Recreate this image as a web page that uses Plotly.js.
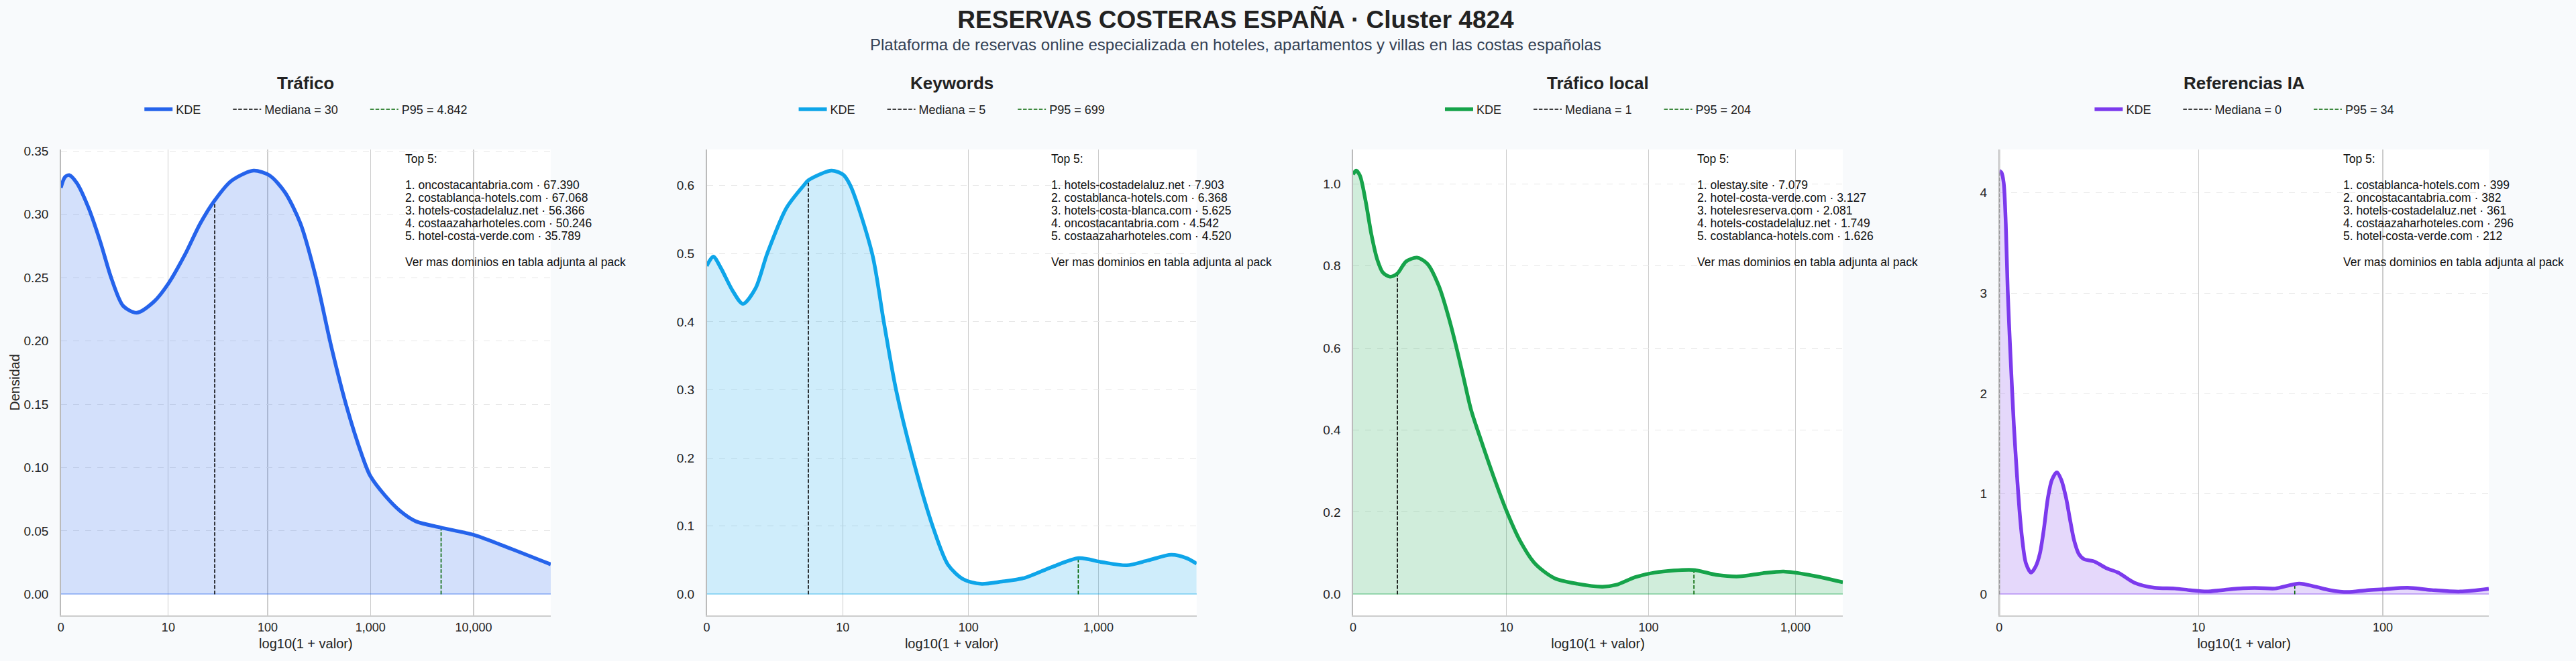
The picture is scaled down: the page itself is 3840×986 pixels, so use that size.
<!DOCTYPE html>
<html>
<head>
<meta charset="utf-8">
<script src="https://cdn.plot.ly/plotly-3.0.1.min.js"></script>
<style>
html,body{margin:0;padding:0;background:#f8fafc;}
#chart{width:3840px;height:986px;}
</style>
</head>
<body>
<div id="chart"></div>
<script>
// ---------------- DATA ----------------
const chartTitle = "RESERVAS COSTERAS ESPAÑA · Cluster 4824";
const chartSubtitle = "Plataforma de reservas online especializada en hoteles, apartamentos y villas en las costas españolas";
const panelTitles = ["Tráfico", "Keywords", "Tráfico local", "Referencias IA"];
const lineColors = ["#2563eb", "#0ea5e9", "#16a34a", "#7c3aed"];

const medians = [30, 5, 1, 0];
const medianLabels = ["30", "5", "1", "0"];
const p95s = [4842, 699, 204, 34];
const p95Labels = ["4.842", "699", "204", "34"];

const xTickValues = [[0, 10, 100, 1000, 10000], [0, 10, 100, 1000], [0, 10, 100, 1000], [0, 10, 100]];
const xTickLabels = [["0", "10", "100", "1,000", "10,000"], ["0", "10", "100", "1,000"], ["0", "10", "100", "1,000"], ["0", "10", "100"]];

const yTickStep = [0.05, 0.1, 0.2, 1];
const yTickFormat = [".2f", ".1f", ".1f", "d"];

// KDE curves on log10(1 + valor) axis
const traficoX = [0, 0.04, 0.082, 0.157, 0.269, 0.381, 0.493, 0.605, 0.735, 0.903, 1.041, 1.202, 1.351, 1.489, 1.650, 1.866, 2.023, 2.172, 2.322, 2.471, 2.620, 2.769, 2.919, 2.997, 3.142, 3.292, 3.440, 3.680, 3.997, 4.263, 4.748];
const traficoY = [0.321, 0.3295, 0.331, 0.3245, 0.305, 0.2787, 0.2487, 0.2276, 0.2223, 0.2311, 0.2452, 0.2681, 0.2928, 0.3108, 0.3263, 0.3345, 0.3307, 0.3174, 0.2928, 0.2505, 0.1959, 0.1483, 0.1096, 0.0937, 0.0779, 0.0655, 0.0576, 0.0527, 0.0470, 0.0391, 0.0236];

const keywordsX = [0, 0.05, 0.109, 0.197, 0.277, 0.374, 0.463, 0.610, 0.742, 0.781, 0.955, 1.043, 1.10, 1.267, 1.356, 1.450, 1.577, 1.730, 1.848, 1.966, 2.098, 2.260, 2.437, 2.643, 2.850, 3.027, 3.218, 3.380, 3.557, 3.675, 3.7516];
const keywordsY = [0.482, 0.4957, 0.4787, 0.446, 0.4263, 0.4492, 0.50, 0.567, 0.60, 0.608, 0.6218, 0.6162, 0.60, 0.50, 0.40, 0.30, 0.20, 0.10, 0.0432, 0.0219, 0.0153, 0.0186, 0.0242, 0.0399, 0.053, 0.0471, 0.0425, 0.0497, 0.0579, 0.053, 0.0448];

const localX = [0, 0.021, 0.047, 0.086, 0.125, 0.164, 0.203, 0.251, 0.300, 0.360, 0.434, 0.504, 0.582, 0.661, 0.739, 0.80, 0.857, 0.95, 1.042, 1.131, 1.235, 1.366, 1.522, 1.692, 1.784, 1.914, 2.045, 2.306, 2.463, 2.619, 2.776, 2.920, 3.090, 3.322];
const localY = [1.0227, 1.0319, 1.020, 0.957, 0.876, 0.816, 0.7835, 0.7737, 0.781, 0.8107, 0.820, 0.8053, 0.751, 0.6586, 0.5445, 0.45, 0.387, 0.29, 0.2021, 0.1314, 0.0743, 0.0391, 0.0254, 0.0184, 0.0228, 0.0418, 0.0527, 0.0592, 0.0473, 0.0434, 0.051, 0.0554, 0.0473, 0.0293];

const iaX = [0, 0.012, 0.023, 0.034, 0.044, 0.059, 0.076, 0.092, 0.105, 0.118, 0.139, 0.166, 0.191, 0.212, 0.233, 0.254, 0.275, 0.301, 0.324, 0.349, 0.370, 0.391, 0.416, 0.443, 0.496, 0.559, 0.622, 0.706, 0.811, 0.916, 1.0, 1.084, 1.18, 1.273, 1.36, 1.441, 1.567, 1.651, 1.73, 1.819, 1.92, 2.004, 2.134, 2.260, 2.408, 2.558];
const iaY = [4.22, 4.2, 4.1, 3.69, 3.03, 2.36, 1.69, 1.2, 0.85, 0.58, 0.31, 0.215, 0.28, 0.404, 0.65, 0.96, 1.14, 1.215, 1.14, 0.96, 0.74, 0.537, 0.40, 0.349, 0.327, 0.26, 0.215, 0.115, 0.064, 0.057, 0.04, 0.027, 0.045, 0.06, 0.062, 0.057, 0.107, 0.075, 0.04, 0.022, 0.04, 0.049, 0.064, 0.042, 0.027, 0.055];

const top5Trafico = ["1. oncostacantabria.com · 67.390", "2. costablanca-hotels.com · 67.068", "3. hotels-costadelaluz.net · 56.366", "4. costaazaharhoteles.com · 50.246", "5. hotel-costa-verde.com · 35.789"];
const top5Keywords = ["1. hotels-costadelaluz.net · 7.903", "2. costablanca-hotels.com · 6.368", "3. hotels-costa-blanca.com · 5.625", "4. oncostacantabria.com · 4.542", "5. costaazaharhoteles.com · 4.520"];
const top5Local = ["1. olestay.site · 7.079", "2. hotel-costa-verde.com · 3.127", "3. hotelesreserva.com · 2.081", "4. hotels-costadelaluz.net · 1.749", "5. costablanca-hotels.com · 1.626"];
const top5IA = ["1. costablanca-hotels.com · 399", "2. oncostacantabria.com · 382", "3. hotels-costadelaluz.net · 361", "4. costaazaharhoteles.com · 296", "5. hotel-costa-verde.com · 212"];
const top5Header = "Top 5:";
const top5Footer = "Ver mas dominios en tabla adjunta al pack";

const xAxisTitle = "log10(1 + valor)";
const yAxisTitle = "Densidad";

// ---------------- BUILD ----------------
const kdeX = [traficoX, keywordsX, localX, iaX];
const kdeY = [traficoY, keywordsY, localY, iaY];
const top5 = [top5Trafico, top5Keywords, top5Local, top5IA];

const W = 3840, H = 986, ML = 90, MR = 130, MT = 223, MB = 68;
const PW = W - ML - MR, PH = H - MT - MB;
const panelLeft = [90.7, 1053.5, 2016.9, 2980.3];
const panelWidth = 730.3;
const px2x = p => (p - ML) / PW;
const py2y = p => (H - MB - p) / PH;
const fontFam = '"Liberation Sans", Arial, Helvetica, sans-serif';

const meas = document.createElement("canvas").getContext("2d");
meas.font = '18px "Liberation Sans", Arial, sans-serif';
const textW = s => meas.measureText(s).width;

function rgba(hex, a) {
  const n = parseInt(hex.slice(1), 16);
  return `rgba(${(n >> 16) & 255},${(n >> 8) & 255},${n & 255},${a})`;
}
function interp(xs, ys, x) {
  if (x <= xs[0]) return ys[0];
  for (let i = 1; i < xs.length; i++) {
    if (x <= xs[i]) {
      const t = (x - xs[i - 1]) / (xs[i] - xs[i - 1]);
      return ys[i - 1] + t * (ys[i] - ys[i - 1]);
    }
  }
  return ys[ys.length - 1];
}

const data = [];
const annotations = [];
const shapes = [];
const layout = {
  width: W, height: H,
  paper_bgcolor: "#f8fafc", plot_bgcolor: "#ffffff",
  margin: {l: ML, r: MR, t: MT, b: MB, pad: 0},
  font: {family: fontFam, color: "#222222", size: 18},
  showlegend: true,
  title: {
    text: chartTitle, xref: "container", yref: "container",
    x: 1842 / W, xanchor: "center", y: 1 - 28.7 / H, yanchor: "middle",
    font: {family: fontFam, size: 37, weight: 700, color: "#222222"}
  }
};

annotations.push({
  text: chartSubtitle, xref: "paper", yref: "paper", x: px2x(1842), y: py2y(66.6),
  xanchor: "center", yanchor: "middle", showarrow: false,
  font: {family: fontFam, size: 24, color: "#334155"}
});

let legendIndex = 0;
function nextLegendId() {
  legendIndex += 1;
  return legendIndex === 1 ? "legend" : "legend" + legendIndex;
}

for (let i = 0; i < 4; i++) {
  const sfx = i === 0 ? "" : String(i + 1);
  const xa = "x" + sfx, ya = "y" + sfx;
  const xs = kdeX[i], ys = kdeY[i];
  const color = lineColors[i];
  const yMax = Math.max(...ys);
  const L = panelLeft[i], R = L + panelWidth, C = (L + R) / 2;

  // legend layout: one legend per entry, laid out in a centred row
  const names = ["KDE", "Mediana = " + medianLabels[i], "P95 = " + p95Labels[i]];
  const widths = names.map(textW);
  const total = 3 * 56 + 2 * 39 + widths.reduce((a, b) => a + b, 0);
  let ls = C - total / 2;
  const legIds = names.map((nm, k) => {
    const id = nextLegendId();
    layout[id] = {
      orientation: "h", x: px2x(ls - 0.5), xanchor: "left", y: py2y(163.3), yanchor: "middle",
      xref: "paper", yref: "paper", bgcolor: "rgba(0,0,0,0)", borderwidth: 0, itemwidth: 42,
      font: {family: fontFam, size: 18, color: "#222222"}
    };
    ls += 56 + widths[k] + 39;
    return id;
  });

  // filled area
  data.push({
    type: "scatter", mode: "lines", x: xs, y: ys, xaxis: xa, yaxis: ya,
    line: {shape: "spline", smoothing: 0.8, width: 0, color: rgba(color, 0.2)},
    fill: "tozeroy", fillcolor: rgba(color, 0.2), showlegend: false, hoverinfo: "skip"
  });
  // median
  const mx = Math.log10(1 + medians[i]);
  data.push({
    type: "scatter", mode: "lines", x: [mx, mx], y: [0, interp(xs, ys, mx)], xaxis: xa, yaxis: ya,
    line: {color: "#000000", width: 1.6, dash: "5.5px,2.4px"},
    name: names[1], legend: legIds[1]
  });
  // p95
  const px = Math.log10(1 + p95s[i]);
  data.push({
    type: "scatter", mode: "lines", x: [px, px], y: [0, interp(xs, ys, px)], xaxis: xa, yaxis: ya,
    line: {color: "#006400", width: 1.6, dash: "5.5px,2.4px"},
    name: names[2], legend: legIds[2]
  });
  // KDE line
  data.push({
    type: "scatter", mode: "lines", x: xs, y: ys, xaxis: xa, yaxis: ya,
    line: {shape: "spline", smoothing: 0.8, width: 5.5, color: color},
    name: names[0], legend: legIds[0]
  });

  layout["xaxis" + sfx] = {
    domain: [px2x(L), px2x(R)], anchor: ya, range: [0, xs[xs.length - 1]],
    tickvals: xTickValues[i].map(v => Math.log10(1 + v)), ticktext: xTickLabels[i],
    tickfont: {size: 18, color: "#222222"}, ticks: "",
    showgrid: true, gridcolor: "#cccccc", gridwidth: 1.2,
    zeroline: false, showline: true, linecolor: "#cccccc", linewidth: 2,
    title: {text: xAxisTitle, font: {size: 20, color: "#222222"}, standoff: 8},
    fixedrange: true
  };
  layout["yaxis" + sfx] = {
    domain: [0, 1], anchor: xa, range: [-0.05 * yMax, 1.05 * yMax],
    tick0: 0, dtick: yTickStep[i], tickformat: yTickFormat[i],
    tickfont: {size: 19, color: "#222222"}, ticks: "", ticklabelstandoff: 13,
    showgrid: true, gridcolor: "#e6e6e6", griddash: "dash", gridwidth: 1,
    zeroline: true, zerolinecolor: rgba(color, 0.35), zerolinewidth: 2,
    showline: true, linecolor: "#bbbbbb", linewidth: 1.5,
    fixedrange: true
  };
  if (i === 0) {
    layout.yaxis.title = {text: yAxisTitle, font: {size: 20, color: "#222222"}, standoff: 0};
  }
  // left spine drawn over a median line sitting exactly on x = 0
  if (mx === 0) {
    shapes.push({
      type: "line", xref: xa, yref: ya + " domain", x0: 0, x1: 0, y0: 0, y1: 1,
      layer: "above", line: {color: "#bbbbbb", width: 2.5}
    });
  }

  // panel title
  annotations.push({
    text: panelTitles[i], xref: "paper", yref: "paper", x: px2x(C), y: py2y(124),
    xanchor: "center", yanchor: "middle", showarrow: false,
    font: {family: fontFam, size: 26, weight: 700, color: "#222222"}
  });

  // Top 5 text block
  const lines = [top5Header, null, ...top5[i], null, top5Footer];
  lines.forEach((t, k) => {
    if (t === null) return;
    const cy = 237.3 + k * 19.15;
    annotations.push({
      text: t, xref: xa + " domain", yref: ya + " domain", x: 0.70, y: (918 - cy) / PH,
      xanchor: "left", yanchor: "middle", showarrow: false,
      font: {family: fontFam, size: 17.5, color: "#111111"}
    });
  });
}
layout.annotations = annotations;
layout.shapes = shapes;

Plotly.newPlot("chart", data, layout, {staticPlot: true, displayModeBar: false});
</script>
</body>
</html>
